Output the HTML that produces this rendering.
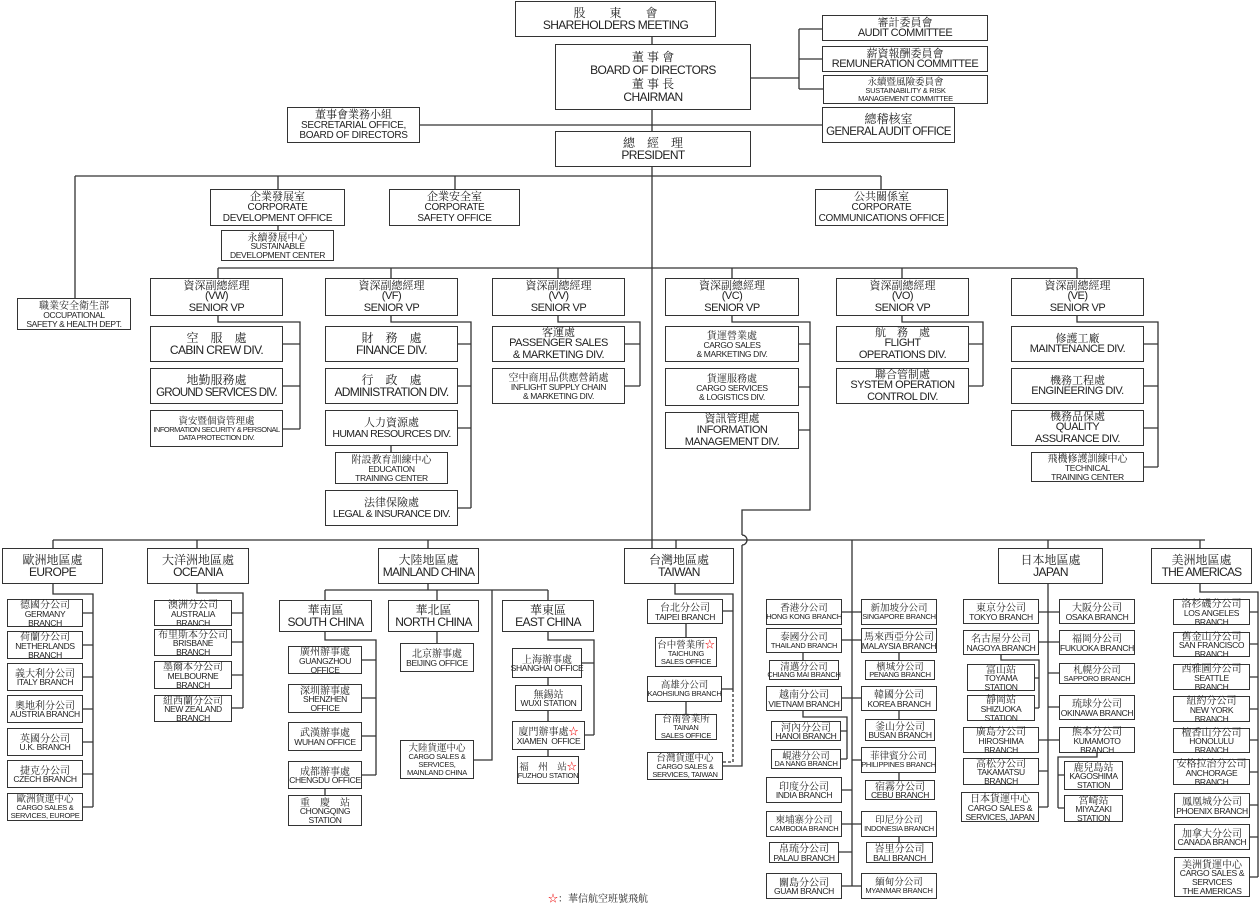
<!DOCTYPE html>
<html><head><meta charset="utf-8">
<style>
*{margin:0;padding:0;box-sizing:border-box}
body{width:1260px;height:911px;background:#fff;position:relative;overflow:hidden;font-family:"Liberation Sans","Noto Sans CJK TC",sans-serif;color:#222}
svg{position:absolute;left:0;top:0}
.b{position:absolute;border:1px solid #333;background:#fff;text-align:center;display:flex;flex-direction:column;justify-content:center;align-items:center;font-size:10px;line-height:1.08;white-space:nowrap;overflow:visible;letter-spacing:-0.3px}
.b i{display:block;font-style:normal;font-family:"Noto Serif CJK SC","Noto Sans CJK TC",serif;font-size:11px;line-height:1.15;letter-spacing:0}
.l{font-size:12px;letter-spacing:-0.6px}.l i{font-size:12px}
.m{font-size:11px;letter-spacing:-0.5px}
.s{font-size:8.5px;letter-spacing:-0.35px}.s i{font-size:10px}
.xs{font-size:7.5px;letter-spacing:-0.3px}.xs i{font-size:9.5px}
.st{color:#e00;font-size:10px;font-style:normal}
</style></head><body>
<svg width="1260" height="911" fill="none" stroke="#333" stroke-width="1.3">
<path d="M652 37V548 M751 78H799 M799 29V89 M799 29H822 M799 59H822 M799 89H823 M420 125H822
M75 176H881 M75 176V298 M278 176V189 M455 176V189 M881 176V189 M278 226V230
M218 268H1077 M218 268V278 M391 268V278 M558 268V278 M732 268V278 M902 268V278 M1077 268V278
M218 316V322H300V429 M283 344H300 M283 386H300 M283 429H300
M391 316V322H471V508 M458 344H471 M458 386H471 M458 428H471 M458 508H471 M391 446V452
M558 316V322H640V386 M625 344H640 M625 386H640
M732 316V322H810V510H742V535 M742 545V766H723 M799 344H810 M799 387H810 M799 430H810
M902 316V322H983V386 M969 344H983 M969 386H983
M1077 316V322H1158V467 M1144 344H1158 M1144 386H1158 M1144 428H1158 M1144 467H1158
M53 540H1205 M53 540V548 M197 540V548 M428 540V548 M676 540V548 M852 540V886 M1048 540V548 M1200 540V548
M53 584V594H93V807 M83 613H93 M83 645H93 M83 677H93 M83 709H93 M83 742H93 M83 774H93 M83 807H93
M197 584V593H243V708 M232 613H243 M232 642H243 M232 675H243 M232 708H243
M428 584V590 M325 590H548 M325 590V600 M437 590V600 M548 590V600 M492 590V760H474
M325 632V640H376V775 M362 660H376 M362 698H376 M362 736H376 M362 775H376 M325 789V795
M437 632V643
M548 632V640H594V735 M582 663H594 M585 735H594 M548 678V685 M548 711V721 M548 750V756
M675 584V594H733V689 M723 611H733 M722 689H733 M686 624V637 M686 702V714
M842 612H861 M842 640H861 M803 653V660 M899 653V660 M842 698H861 M899 711V719
M803 711V717H847V759 M841 731H847 M841 759H847 M852 760H861 M899 773V780 M842 790H852
M842 824H861 M899 837V842 M839 852H852 M842 886H861
M1048 584V807 M1039 612H1059 M1039 642H1059 M1048 673H1059 M1048 707H1059 M1039 740H1059 M1039 771H1048 M1039 807H1048
M1001 655V660H1039V708 M1035 678H1039 M1035 708H1039
M1097 753V757H1058V808 M1058 775H1064 M1058 808H1064
M1200 584V592H1258V877 M1250 612H1258 M1250 644H1258 M1250 677H1258 M1250 709H1258 M1250 740H1258 M1250 772H1258 M1250 805H1258 M1250 837H1258 M1250 877H1258"/>
<path d="M742 535 A5 5 0 0 1 742 545" />
<path d="M733 689V762H723" stroke-dasharray="3,2"/>
</svg>

<div class="b l" style="left:515px;top:1px;width:201px;height:36px"><i>股　　東　　會</i>SHAREHOLDERS MEETING</div>
<div class="b l" style="left:555px;top:44px;width:196px;height:66px"><i>董 事 會</i>BOARD OF DIRECTORS<i>董 事 長</i>CHAIRMAN</div>
<div class="b m" style="left:822px;top:15px;width:166px;height:26px"><i>審計委員會</i>AUDIT COMMITTEE</div>
<div class="b m" style="left:822px;top:46px;width:166px;height:26px"><i>薪資報酬委員會</i>REMUNERATION COMMITTEE</div>
<div class="b xs" style="left:823px;top:75px;width:165px;height:29px"><i>永續暨風險委員會</i>SUSTAINABILITY &amp; RISK<br>MANAGEMENT COMMITTEE</div>
<div class="b l" style="left:822px;top:107px;width:133px;height:36px;font-size:11.5px"><i>總稽核室</i>GENERAL AUDIT OFFICE</div>
<div class="b" style="left:287px;top:107px;width:133px;height:36px"><i>董事會業務小組</i>SECRETARIAL OFFICE,<br>BOARD OF DIRECTORS</div>
<div class="b l" style="left:555px;top:131px;width:196px;height:36px"><i>總　經　理</i>PRESIDENT</div>
<div class="b" style="left:210px;top:189px;width:135px;height:37px"><i>企業發展室</i>CORPORATE<br>DEVELOPMENT OFFICE</div>
<div class="b s" style="left:221px;top:230px;width:113px;height:31px"><i>永續發展中心</i>SUSTAINABLE<br>DEVELOPMENT CENTER</div>
<div class="b" style="left:389px;top:189px;width:131px;height:37px"><i>企業安全室</i>CORPORATE<br>SAFETY OFFICE</div>
<div class="b" style="left:815px;top:189px;width:133px;height:37px"><i>公共關係室</i>CORPORATE<br>COMMUNICATIONS OFFICE</div>
<div class="b s" style="left:17px;top:298px;width:114px;height:32px"><i>職業安全衛生部</i>OCCUPATIONAL<br>SAFETY &amp; HEALTH DEPT.</div>

<div class="b m" style="left:150px;top:278px;width:133px;height:38px"><i>資深副總經理</i>(VW)<br>SENIOR VP</div>
<div class="b m" style="left:325px;top:278px;width:133px;height:38px"><i>資深副總經理</i>(VF)<br>SENIOR VP</div>
<div class="b m" style="left:492px;top:278px;width:133px;height:38px"><i>資深副總經理</i>(VV)<br>SENIOR VP</div>
<div class="b m" style="left:665px;top:278px;width:134px;height:38px"><i>資深副總經理</i>(VC)<br>SENIOR VP</div>
<div class="b m" style="left:836px;top:278px;width:133px;height:38px"><i>資深副總經理</i>(VO)<br>SENIOR VP</div>
<div class="b m" style="left:1011px;top:278px;width:133px;height:38px"><i>資深副總經理</i>(VE)<br>SENIOR VP</div>

<div class="b l" style="left:150px;top:326px;width:133px;height:36px"><i>空　服　處</i>CABIN CREW DIV.</div>
<div class="b l" style="left:150px;top:368px;width:133px;height:36px;font-size:11.5px;letter-spacing:-0.8px"><i>地勤服務處</i>GROUND SERVICES DIV.</div>
<div class="b xs" style="left:150px;top:410px;width:133px;height:37px;letter-spacing:-0.5px"><i>資安暨個資管理處</i>INFORMATION SECURITY &amp; PERSONAL<br>DATA PROTECTION DIV.</div>

<div class="b l" style="left:325px;top:326px;width:133px;height:36px"><i>財　務　處</i>FINANCE DIV.</div>
<div class="b l" style="left:325px;top:368px;width:133px;height:36px;letter-spacing:-0.7px"><i>行　政　處</i>ADMINISTRATION DIV.</div>
<div class="b m" style="left:325px;top:410px;width:133px;height:36px;font-size:10.5px;letter-spacing:-0.6px"><i>人力資源處</i>HUMAN RESOURCES DIV.</div>
<div class="b s" style="left:335px;top:452px;width:113px;height:32px"><i>附設教育訓練中心</i>EDUCATION<br>TRAINING CENTER</div>
<div class="b m" style="left:325px;top:490px;width:133px;height:36px;font-size:10.5px;letter-spacing:-0.6px"><i>法律保險處</i>LEGAL &amp; INSURANCE DIV.</div>

<div class="b m" style="left:492px;top:326px;width:133px;height:36px"><i>客運處</i>PASSENGER SALES<br>&amp; MARKETING DIV.</div>
<div class="b s" style="left:492px;top:368px;width:133px;height:36px"><i>空中商用品供應營銷處</i>INFLIGHT SUPPLY CHAIN<br>&amp; MARKETING DIV.</div>

<div class="b s" style="left:665px;top:326px;width:134px;height:36px"><i>貨運營業處</i>CARGO SALES<br>&amp; MARKETING DIV.</div>
<div class="b s" style="left:665px;top:368px;width:134px;height:38px"><i>貨運服務處</i>CARGO SERVICES<br>&amp; LOGISTICS DIV.</div>
<div class="b m" style="left:665px;top:412px;width:134px;height:37px"><i>資訊管理處</i>INFORMATION<br>MANAGEMENT DIV.</div>

<div class="b m" style="left:836px;top:326px;width:133px;height:36px"><i>航　務　處</i>FLIGHT<br>OPERATIONS DIV.</div>
<div class="b m" style="left:836px;top:368px;width:133px;height:36px"><i>聯合管制處</i>SYSTEM OPERATION<br>CONTROL DIV.</div>

<div class="b m" style="left:1011px;top:326px;width:133px;height:36px"><i>修護工廠</i>MAINTENANCE DIV.</div>
<div class="b m" style="left:1011px;top:368px;width:133px;height:36px"><i>機務工程處</i>ENGINEERING DIV.</div>
<div class="b m" style="left:1011px;top:410px;width:133px;height:36px"><i>機務品保處</i>QUALITY<br>ASSURANCE DIV.</div>
<div class="b s" style="left:1031px;top:452px;width:113px;height:30px"><i>飛機修護訓練中心</i>TECHNICAL<br>TRAINING CENTER</div>

<!-- regions -->
<div class="b l" style="left:2px;top:548px;width:101px;height:36px"><i>歐洲地區處</i>EUROPE</div>
<div class="b l" style="left:147px;top:548px;width:102px;height:36px"><i>大洋洲地區處</i>OCEANIA</div>
<div class="b l" style="left:378px;top:548px;width:101px;height:36px;letter-spacing:-0.8px"><i>大陸地區處</i>MAINLAND CHINA</div>
<div class="b l" style="left:624px;top:548px;width:110px;height:36px"><i>台灣地區處</i>TAIWAN</div>
<div class="b l" style="left:998px;top:548px;width:105px;height:36px"><i>日本地區處</i>JAPAN</div>
<div class="b l" style="left:1151px;top:548px;width:101px;height:36px;letter-spacing:-0.8px"><i>美洲地區處</i>THE AMERICAS</div>

<!-- Europe -->
<div class="b s" style="left:7px;top:599px;width:76px;height:28px"><i>德國分公司</i>GERMANY<br>BRANCH</div>
<div class="b s" style="left:7px;top:631px;width:76px;height:28px"><i>荷蘭分公司</i>NETHERLANDS<br>BRANCH</div>
<div class="b s" style="left:7px;top:663px;width:76px;height:28px"><i>義大利分公司</i>ITALY BRANCH</div>
<div class="b s" style="left:7px;top:695px;width:76px;height:28px"><i>奧地利分公司</i>AUSTRIA BRANCH</div>
<div class="b s" style="left:7px;top:728px;width:76px;height:28px"><i>英國分公司</i>U.K. BRANCH</div>
<div class="b s" style="left:7px;top:760px;width:76px;height:28px"><i>捷克分公司</i>CZECH BRANCH</div>
<div class="b xs" style="left:7px;top:793px;width:76px;height:28px"><i>歐洲貨運中心</i>CARGO SALES &amp;<br>SERVICES, EUROPE</div>
<!-- Oceania -->
<div class="b s" style="left:154px;top:600px;width:78px;height:26px"><i>澳洲分公司</i>AUSTRALIA<br>BRANCH</div>
<div class="b s" style="left:154px;top:629px;width:78px;height:27px"><i>布里斯本分公司</i>BRISBANE<br>BRANCH</div>
<div class="b s" style="left:154px;top:661px;width:78px;height:28px"><i>墨爾本分公司</i>MELBOURNE<br>BRANCH</div>
<div class="b s" style="left:154px;top:695px;width:78px;height:27px"><i>紐西蘭分公司</i>NEW ZEALAND<br>BRANCH</div>
<!-- Mainland -->
<div class="b l" style="left:279px;top:600px;width:93px;height:32px"><i>華南區</i>SOUTH CHINA</div>
<div class="b l" style="left:388px;top:600px;width:91px;height:32px"><i>華北區</i>NORTH CHINA</div>
<div class="b l" style="left:502px;top:600px;width:92px;height:32px"><i>華東區</i>EAST CHINA</div>
<div class="b s" style="left:288px;top:646px;width:74px;height:28px"><i>廣州辦事處</i>GUANGZHOU<br>OFFICE</div>
<div class="b s" style="left:288px;top:684px;width:74px;height:29px"><i>深圳辦事處</i>SHENZHEN<br>OFFICE</div>
<div class="b s" style="left:288px;top:722px;width:74px;height:29px"><i>武漢辦事處</i>WUHAN OFFICE</div>
<div class="b s" style="left:288px;top:761px;width:74px;height:28px"><i>成都辦事處</i>CHENGDU OFFICE</div>
<div class="b s" style="left:288px;top:795px;width:74px;height:31px"><i>重　慶　站</i>CHONGQING<br>STATION</div>
<div class="b s" style="left:400px;top:643px;width:74px;height:29px"><i>北京辦事處</i>BEIJING OFFICE</div>
<div class="b xs" style="left:400px;top:740px;width:74px;height:39px"><i>大陸貨運中心</i>CARGO SALES &amp;<br>SERVICES,<br>MAINLAND CHINA</div>
<div class="b s" style="left:512px;top:648px;width:70px;height:30px"><i>上海辦事處</i>SHANGHAI OFFICE</div>
<div class="b s" style="left:515px;top:685px;width:67px;height:26px"><i>無錫站</i>WUXI STATION</div>
<div class="b s" style="left:512px;top:721px;width:73px;height:29px"><i>廈門辦事處<span class="st">☆</span></i>XIAMEN&nbsp; OFFICE</div>
<div class="b xs" style="left:517px;top:756px;width:62px;height:28px"><i>福　州　站<span class="st">☆</span></i>FUZHOU STATION</div>
<!-- Taiwan -->
<div class="b s" style="left:647px;top:599px;width:76px;height:25px"><i>台北分公司</i>TAIPEI BRANCH</div>
<div class="b xs" style="left:655px;top:637px;width:62px;height:30px"><i>台中營業所<span class="st">☆</span></i>TAICHUNG<br>SALES OFFICE</div>
<div class="b xs" style="left:647px;top:676px;width:75px;height:26px"><i>高雄分公司</i>KAOHSIUNG BRANCH</div>
<div class="b xs" style="left:655px;top:714px;width:62px;height:26px"><i>台南營業所</i>TAINAN<br>SALES OFFICE</div>
<div class="b xs" style="left:647px;top:752px;width:76px;height:28px"><i>台灣貨運中心</i>CARGO SALES &amp;<br>SERVICES, TAIWAN</div>
<!-- Asia -->
<div class="b xs" style="left:766px;top:599px;width:76px;height:26px"><i>香港分公司</i>HONG KONG BRANCH</div>
<div class="b xs" style="left:861px;top:599px;width:76px;height:26px"><i>新加坡分公司</i>SINGAPORE BRANCH</div>
<div class="b xs" style="left:766px;top:628px;width:76px;height:25px"><i>泰國分公司</i>THAILAND BRANCH</div>
<div class="b s" style="left:861px;top:628px;width:76px;height:25px"><i>馬來西亞分公司</i>MALAYSIA BRANCH</div>
<div class="b xs" style="left:769px;top:660px;width:70px;height:20px"><i>清邁分公司</i>CHIANG MAI BRANCH</div>
<div class="b xs" style="left:865px;top:660px;width:70px;height:20px"><i>檳城分公司</i>PENANG BRANCH</div>
<div class="b s" style="left:766px;top:686px;width:76px;height:25px"><i>越南分公司</i>VIETNAM BRANCH</div>
<div class="b s" style="left:861px;top:686px;width:76px;height:25px"><i>韓國分公司</i>KOREA BRANCH</div>
<div class="b s" style="left:771px;top:721px;width:70px;height:20px"><i>河內分公司</i>HANOI BRANCH</div>
<div class="b xs" style="left:771px;top:749px;width:70px;height:20px"><i>峴港分公司</i>DA NANG BRANCH</div>
<div class="b s" style="left:865px;top:719px;width:70px;height:22px"><i>釜山分公司</i>BUSAN BRANCH</div>
<div class="b xs" style="left:861px;top:747px;width:75px;height:26px"><i>菲律賓分公司</i>PHILIPPINES BRANCH</div>
<div class="b s" style="left:865px;top:780px;width:70px;height:20px"><i>宿霧分公司</i>CEBU BRANCH</div>
<div class="b s" style="left:766px;top:777px;width:76px;height:26px"><i>印度分公司</i>INDIA BRANCH</div>
<div class="b xs" style="left:766px;top:811px;width:76px;height:26px"><i>柬埔寨分公司</i>CAMBODIA BRANCH</div>
<div class="b xs" style="left:861px;top:811px;width:76px;height:26px"><i>印尼分公司</i>INDONESIA BRANCH</div>
<div class="b s" style="left:769px;top:842px;width:70px;height:21px"><i>帛琉分公司</i>PALAU BRANCH</div>
<div class="b s" style="left:866px;top:842px;width:67px;height:21px"><i>峇里分公司</i>BALI BRANCH</div>
<div class="b s" style="left:766px;top:873px;width:76px;height:26px"><i>關島分公司</i>GUAM BRANCH</div>
<div class="b xs" style="left:861px;top:873px;width:76px;height:26px"><i>緬甸分公司</i>MYANMAR BRANCH</div>
<!-- Japan -->
<div class="b s" style="left:963px;top:599px;width:76px;height:25px"><i>東京分公司</i>TOKYO BRANCH</div>
<div class="b s" style="left:1059px;top:599px;width:76px;height:25px"><i>大阪分公司</i>OSAKA BRANCH</div>
<div class="b s" style="left:963px;top:630px;width:76px;height:25px"><i>名古屋分公司</i>NAGOYA BRANCH</div>
<div class="b s" style="left:1059px;top:630px;width:76px;height:25px"><i>福岡分公司</i>FUKUOKA BRANCH</div>
<div class="b s" style="left:967px;top:664px;width:68px;height:27px"><i>富山站</i>TOYAMA<br>STATION</div>
<div class="b s" style="left:967px;top:695px;width:68px;height:26px"><i>靜岡站</i>SHIZUOKA<br>STATION</div>
<div class="b xs" style="left:1059px;top:663px;width:76px;height:21px"><i>札幌分公司</i>SAPPORO BRANCH</div>
<div class="b s" style="left:1059px;top:695px;width:76px;height:25px"><i>琉球分公司</i>OKINAWA BRANCH</div>
<div class="b s" style="left:963px;top:727px;width:76px;height:26px"><i>廣島分公司</i>HIROSHIMA<br>BRANCH</div>
<div class="b s" style="left:1059px;top:727px;width:76px;height:26px"><i>熊本分公司</i>KUMAMOTO<br>BRANCH</div>
<div class="b s" style="left:963px;top:758px;width:76px;height:27px"><i>高松分公司</i>TAKAMATSU<br>BRANCH</div>
<div class="b s" style="left:1064px;top:761px;width:59px;height:29px"><i>鹿兒島站</i>KAGOSHIMA<br>STATION</div>
<div class="b s" style="left:961px;top:792px;width:78px;height:30px"><i>日本貨運中心</i>CARGO SALES &amp;<br>SERVICES, JAPAN</div>
<div class="b s" style="left:1064px;top:795px;width:59px;height:27px"><i>宮崎站</i>MIYAZAKI<br>STATION</div>
<!-- Americas -->
<div class="b s" style="left:1173px;top:599px;width:77px;height:26px"><i>洛杉磯分公司</i>LOS ANGELES<br>BRANCH</div>
<div class="b s" style="left:1173px;top:632px;width:77px;height:25px"><i>舊金山分公司</i>SAN FRANCISCO<br>BRANCH</div>
<div class="b s" style="left:1173px;top:664px;width:77px;height:26px"><i>西雅圖分公司</i>SEATTLE<br>BRANCH</div>
<div class="b s" style="left:1173px;top:696px;width:77px;height:26px"><i>紐約分公司</i>NEW YORK<br>BRANCH</div>
<div class="b s" style="left:1173px;top:728px;width:77px;height:25px"><i>檀香山分公司</i>HONOLULU<br>BRANCH</div>
<div class="b s" style="left:1173px;top:759px;width:77px;height:26px"><i>安格拉治分公司</i>ANCHORAGE<br>BRANCH</div>
<div class="b s" style="left:1174px;top:793px;width:76px;height:25px"><i>鳳凰城分公司</i>PHOENIX BRANCH</div>
<div class="b s" style="left:1174px;top:824px;width:76px;height:26px"><i>加拿大分公司</i>CANADA BRANCH</div>
<div class="b s" style="left:1174px;top:857px;width:76px;height:40px"><i>美洲貨運中心</i>CARGO SALES &amp;<br>SERVICES<br>THE AMERICAS</div>

<div style="position:absolute;left:548px;top:890px;font-size:10px;font-family:'Noto Serif CJK SC',serif;white-space:nowrap"><span style="color:#e00">☆</span>：華信航空班號飛航</div>
</body></html>
